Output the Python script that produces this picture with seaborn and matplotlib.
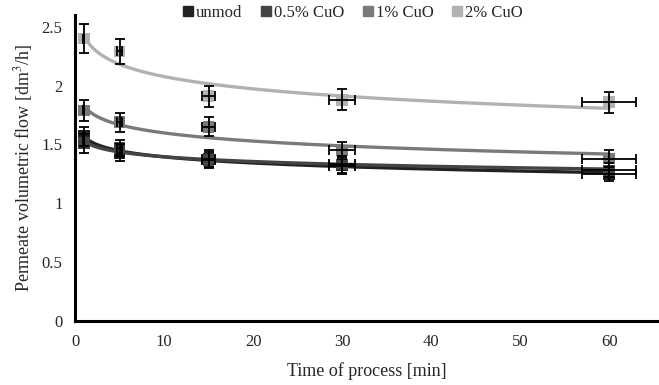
import numpy as np
import pandas as pd
import matplotlib
matplotlib.use("Agg")
import matplotlib.pyplot as plt
import seaborn as sns
from matplotlib.lines import Line2D

# Data
time_min = [1, 5, 15, 30, 60]
time_err = [0.05, 0.25, 0.75, 1.5, 3.0]
series = ["unmod", "0.5% CuO", "1% CuO", "2% CuO"]
flow_unmod = [1.57, 1.43, 1.38, 1.32, 1.25]
flow_05 = [1.51, 1.47, 1.37, 1.33, 1.28]
flow_1 = [1.79, 1.69, 1.65, 1.45, 1.38]
flow_2 = [2.40, 2.29, 1.91, 1.88, 1.86]
err_unmod = [0.08, 0.07, 0.07, 0.07, 0.06]
err_05 = [0.08, 0.07, 0.07, 0.07, 0.06]
err_1 = [0.09, 0.08, 0.08, 0.07, 0.07]
err_2 = [0.12, 0.11, 0.09, 0.09, 0.09]
colors = ["#222222", "#444444", "#7a7a7a", "#b2b2b2"]
yticks = [0, 0.5, 1, 1.5, 2, 2.5]
ytick_labels = ["0", "0.5", "1", "1.5", "2", "2.5"]
xticks = [0, 10, 20, 30, 40, 50, 60]

flows = [flow_unmod, flow_05, flow_1, flow_2]
errs = [err_unmod, err_05, err_1, err_2]

rows = []
for name, f, e in zip(series, flows, errs):
    for t, v, ee, te in zip(time_min, f, e, time_err):
        rows.append(dict(series=name, time=t, flow=v, yerr=ee, xerr=te))
df = pd.DataFrame(rows)

# logarithmic trendlines (fit y = a*ln(t) + b)
trend_rows = []
tt = np.linspace(1, 60, 300)
for name, f in zip(series, flows):
    a, b = np.polyfit(np.log(time_min), f, 1)
    for t in tt:
        trend_rows.append(dict(series=name, time=t, flow=a * np.log(t) + b))
trend = pd.DataFrame(trend_rows)

sns.set_style("white")
plt.rcParams["font.family"] = ["Liberation Serif", "DejaVu Serif"]
plt.rcParams["mathtext.fontset"] = "stix"

fig = plt.figure(figsize=(6.59, 3.85), dpi=100)
ax = fig.add_axes([75 / 659, 1 - 321 / 385, 1 - 75 / 659, (321 - 15) / 385])

palette = dict(zip(series, colors))
sns.lineplot(data=trend, x="time", y="flow", hue="series", palette=palette,
             linewidth=2.4, legend=False, ax=ax, zorder=2)
sns.scatterplot(data=df, x="time", y="flow", hue="series", palette=palette,
                marker="s", s=70, edgecolor="none", legend=False, ax=ax, zorder=3)
for name in series:
    d = df[df.series == name]
    ax.errorbar(d["time"], d["flow"], yerr=d["yerr"], xerr=d["xerr"], fmt="none",
                ecolor="black", elinewidth=1.3, capsize=3.5, capthick=1.3, zorder=4)

ax.set_xlim(0, 65.6)
ax.set_ylim(0, 2.6)
ax.set_xticks(xticks)
ax.set_xticklabels([str(x) for x in xticks], fontsize=12)
ax.set_yticks(yticks)
ax.set_yticklabels(ytick_labels, fontsize=12)
ax.tick_params(axis="x", length=0, pad=9)
ax.tick_params(axis="y", length=0, pad=9)
for s in ["top", "right"]:
    ax.spines[s].set_visible(False)
for s in ["left", "bottom"]:
    ax.spines[s].set_linewidth(2.2)
    ax.spines[s].set_color("black")
ax.set_xlabel("Time of process [min]", fontsize=13, labelpad=9)
ax.set_ylabel("Permeate volumetric flow [dm$^3$/h]", fontsize=13, labelpad=5)

handles = [Line2D([], [], marker="s", linestyle="none", color=c, markersize=7) for c in colors]
fig.legend(handles, series, loc="center", bbox_to_anchor=(352 / 659, 1 - 13 / 385),
           ncol=4, frameon=False, fontsize=12, handletextpad=0.1, columnspacing=1.0,
           handlelength=0.8)

fig.savefig("out.png", dpi=100)
